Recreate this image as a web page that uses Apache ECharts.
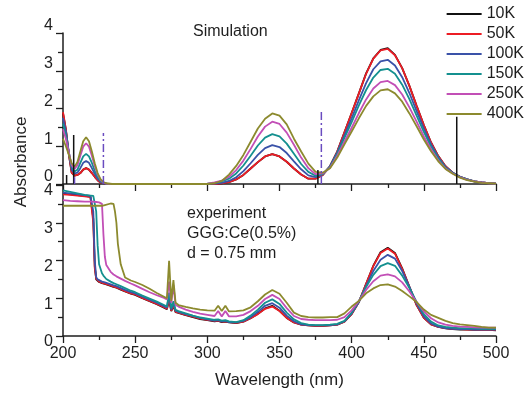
<!DOCTYPE html>
<html>
<head>
<meta charset="utf-8">
<script src="https://cdn.jsdelivr.net/npm/echarts@6/dist/echarts.min.js"></script>
<style>
  html, body { margin: 0; background: #fff; }
  #chart { width: 528px; height: 394px; }
</style>
</head>
<body>
<div id="chart"></div>
<script>
// legend names / colours
const temps = ['10K', '50K', '100K', '150K', '250K', '400K']
const colors = ['#111111', '#ec1c24', '#3a52a8', '#14908f', '#c24fb6', '#8c8a2e']

// ---- top panel: simulation ----
const simX = [200, 202, 204, 206, 208, 210, 212, 214, 216, 218, 220, 222, 224, 226, 228, 230, 234,
  300, 305, 310, 315, 320, 325, 330, 335, 340, 345, 350, 355, 360, 365, 370, 375, 380, 385, 390, 395,
  400, 405, 410, 415, 420, 425, 430, 435, 440, 445, 450, 455, 460, 465, 470, 475, 480, 485, 490, 495, 500]

const sim10K = [1.88, 1.44, 0.8, 0.3, 0.22, 0.24, 0.29, 0.38, 0.42, 0.38, 0.29, 0.19, 0.1, 0.04, 0.02, 0.01, 0,
  0, 0, 0.02, 0.05, 0.12, 0.24, 0.41, 0.58, 0.73, 0.79, 0.73, 0.59, 0.41, 0.25, 0.14, 0.14, 0.24, 0.47, 0.86, 1.37,
  1.88, 2.4, 2.93, 3.33, 3.55, 3.6, 3.42, 3.07, 2.6, 2.07, 1.56, 1.1, 0.74, 0.47, 0.3, 0.19, 0.12, 0.07, 0.04, 0.02, 0.01]
const sim50K = [1.9, 1.45, 0.8, 0.3, 0.22, 0.24, 0.29, 0.38, 0.42, 0.38, 0.29, 0.19, 0.1, 0.04, 0.02, 0.01, 0,
  0, 0, 0.02, 0.05, 0.12, 0.24, 0.41, 0.58, 0.73, 0.79, 0.73, 0.59, 0.41, 0.25, 0.14, 0.14, 0.24, 0.47, 0.86, 1.37,
  1.88, 2.4, 2.92, 3.32, 3.54, 3.58, 3.41, 3.07, 2.6, 2.07, 1.56, 1.1, 0.74, 0.47, 0.3, 0.19, 0.12, 0.07, 0.04, 0.02, 0.01]
const sim100K = [1.75, 1.4, 0.85, 0.38, 0.28, 0.3, 0.42, 0.56, 0.61, 0.56, 0.42, 0.27, 0.14, 0.06, 0.02, 0.01, 0,
  0, 0.01, 0.03, 0.08, 0.18, 0.34, 0.55, 0.77, 0.95, 1.03, 0.98, 0.82, 0.6, 0.39, 0.23, 0.18, 0.26, 0.47, 0.84, 1.29,
  1.74, 2.22, 2.67, 3.04, 3.25, 3.29, 3.14, 2.83, 2.41, 1.93, 1.47, 1.05, 0.71, 0.45, 0.3, 0.19, 0.12, 0.07, 0.04, 0.02, 0.01]
const sim150K = [1.6, 1.3, 0.85, 0.45, 0.33, 0.38, 0.56, 0.73, 0.8, 0.73, 0.56, 0.35, 0.19, 0.08, 0.03, 0.01, 0,
  0.01, 0.03, 0.07, 0.14, 0.28, 0.49, 0.75, 1.02, 1.23, 1.32, 1.26, 1.07, 0.8, 0.53, 0.32, 0.22, 0.26, 0.45, 0.8, 1.22,
  1.64, 2.08, 2.49, 2.82, 3.02, 3.05, 2.92, 2.63, 2.25, 1.81, 1.38, 0.99, 0.68, 0.43, 0.29, 0.19, 0.12, 0.07, 0.04, 0.02, 0.01]
const sim250K = [1.45, 1.2, 0.85, 0.5, 0.4, 0.5, 0.75, 0.99, 1.08, 0.99, 0.75, 0.48, 0.25, 0.11, 0.04, 0.01, 0,
  0.01, 0.04, 0.09, 0.19, 0.37, 0.62, 0.93, 1.26, 1.52, 1.65, 1.59, 1.36, 1.04, 0.7, 0.42, 0.26, 0.28, 0.43, 0.75, 1.12,
  1.49, 1.88, 2.24, 2.53, 2.7, 2.73, 2.62, 2.37, 2.03, 1.65, 1.26, 0.92, 0.63, 0.41, 0.28, 0.18, 0.11, 0.07, 0.04, 0.02, 0.01]
const sim400K = [1.2, 1.0, 0.78, 0.55, 0.46, 0.58, 0.86, 1.13, 1.24, 1.13, 0.86, 0.55, 0.29, 0.13, 0.05, 0.02, 0,
  0, 0.02, 0.08, 0.25, 0.48, 0.77, 1.12, 1.47, 1.73, 1.87, 1.81, 1.58, 1.2, 0.86, 0.54, 0.32, 0.3, 0.42, 0.7, 1.05,
  1.39, 1.74, 2.07, 2.32, 2.48, 2.51, 2.4, 2.18, 1.87, 1.53, 1.18, 0.87, 0.6, 0.4, 0.27, 0.17, 0.1, 0.06, 0.03, 0.02, 0.01]

// vertical markers in the simulation panel
const solidX = [202.5, 207.4, 376.6, 472.8]
const solidTop = [0.24, 1.3, 0.37, 1.78]
const dashX = [208, 228, 379]
const dashTop = [0.18, 1.35, 1.95]

// ---- bottom panel: experiment ----
const expX = [200, 205, 210, 215, 219, 221, 222, 223, 224, 225, 227, 228, 229, 230, 233, 235, 236, 237, 238,
  240, 243, 247, 250, 255, 260, 265, 270, 272, 273.5, 275, 276.5, 278, 280, 285, 290, 295, 300, 305,
  307.5, 310, 312.5, 315, 320, 325, 330, 335, 340, 345, 350, 355, 360, 365, 370, 375, 380, 385, 390, 395,
  400, 405, 410, 415, 420, 425, 430, 435, 440, 445, 450, 455, 460, 465, 470, 475, 480, 485, 490, 495, 500]

const exp10K = [3.77, 3.75, 3.73, 3.71, 3.69, 3.1, 1.85, 1.5, 1.46, 1.43, 1.4, 1.39, 1.38, 1.37, 1.33, 1.3, 1.29, 1.28, 1.26,
  1.23, 1.18, 1.12, 1.09, 1.0, 0.92, 0.84, 0.75, 0.71, 0.96, 0.66, 0.8, 0.63, 0.61, 0.55, 0.5, 0.45, 0.42, 0.39,
  0.4, 0.37, 0.38, 0.36, 0.34, 0.38, 0.47, 0.59, 0.73, 0.8, 0.67, 0.48, 0.36, 0.3, 0.28, 0.27, 0.27, 0.28, 0.3, 0.38,
  0.58, 0.9, 1.38, 1.86, 2.22, 2.34, 2.2, 1.79, 1.3, 0.82, 0.48, 0.31, 0.24, 0.2, 0.18, 0.17, 0.17, 0.16, 0.16, 0.16, 0.15]
const exp50K = [3.75, 3.74, 3.72, 3.7, 3.68, 3.0, 1.8, 1.52, 1.47, 1.44, 1.41, 1.4, 1.39, 1.38, 1.34, 1.31, 1.3, 1.29, 1.27,
  1.24, 1.19, 1.13, 1.1, 1.01, 0.93, 0.85, 0.76, 0.72, 0.98, 0.67, 0.82, 0.64, 0.62, 0.56, 0.51, 0.46, 0.43, 0.4,
  0.41, 0.38, 0.39, 0.37, 0.35, 0.38, 0.47, 0.58, 0.72, 0.78, 0.66, 0.48, 0.36, 0.3, 0.28, 0.27, 0.27, 0.28, 0.3, 0.38,
  0.58, 0.9, 1.38, 1.85, 2.2, 2.32, 2.18, 1.78, 1.3, 0.82, 0.48, 0.31, 0.24, 0.21, 0.19, 0.18, 0.17, 0.17, 0.16, 0.16, 0.16]
const exp100K = [3.8, 3.78, 3.76, 3.73, 3.71, 3.3, 2.0, 1.56, 1.5, 1.47, 1.44, 1.43, 1.42, 1.41, 1.37, 1.34, 1.33, 1.32, 1.3,
  1.27, 1.22, 1.16, 1.13, 1.04, 0.96, 0.88, 0.79, 0.75, 1.1, 0.7, 0.86, 0.67, 0.64, 0.58, 0.53, 0.48, 0.44, 0.41,
  0.42, 0.39, 0.4, 0.37, 0.36, 0.4, 0.5, 0.64, 0.8, 0.87, 0.75, 0.54, 0.39, 0.31, 0.29, 0.28, 0.28, 0.29, 0.31, 0.39,
  0.6, 0.9, 1.33, 1.72, 2.02, 2.15, 2.05, 1.72, 1.3, 0.86, 0.52, 0.33, 0.25, 0.21, 0.19, 0.18, 0.18, 0.17, 0.17, 0.17, 0.17]
const exp150K = [3.86, 3.82, 3.78, 3.74, 3.72, 3.71, 3.7, 3.3, 2.4, 1.9, 1.66, 1.6, 1.55, 1.51, 1.44, 1.4, 1.38, 1.37, 1.35,
  1.32, 1.27, 1.2, 1.16, 1.07, 0.99, 0.91, 0.82, 0.78, 1.15, 0.73, 0.92, 0.69, 0.66, 0.6, 0.54, 0.49, 0.46, 0.43,
  0.44, 0.41, 0.42, 0.39, 0.37, 0.42, 0.54, 0.7, 0.88, 0.97, 0.85, 0.62, 0.44, 0.34, 0.3, 0.29, 0.29, 0.3, 0.32, 0.4,
  0.62, 0.92, 1.3, 1.62, 1.85, 1.93, 1.86, 1.6, 1.27, 0.9, 0.58, 0.38, 0.28, 0.24, 0.22, 0.21, 0.2, 0.2, 0.19, 0.19, 0.19]
const exp250K = [3.6, 3.58, 3.57, 3.56, 3.56, 3.56, 3.55, 3.55, 3.55, 3.54, 3.5, 2.7, 2.1, 1.88, 1.7, 1.63, 1.6, 1.58, 1.56,
  1.52, 1.46, 1.39, 1.34, 1.25, 1.16, 1.08, 1.01, 0.97, 1.44, 0.88, 1.35, 0.82, 0.78, 0.7, 0.64, 0.59, 0.56, 0.53,
  0.66, 0.52, 0.66, 0.52, 0.52, 0.56, 0.66, 0.8, 0.98, 1.09, 0.98, 0.74, 0.53, 0.45, 0.43, 0.42, 0.42, 0.42, 0.43, 0.5,
  0.68, 0.93, 1.22, 1.45, 1.6, 1.63, 1.58, 1.42, 1.18, 0.9, 0.65, 0.47, 0.36, 0.3, 0.27, 0.25, 0.24, 0.23, 0.22, 0.22, 0.22]
const exp400K = [3.45, 3.45, 3.45, 3.45, 3.45, 3.45, 3.45, 3.45, 3.45, 3.45, 3.45, 3.46, 3.47, 3.5, 3.51, 3.5, 3.3, 3.0, 2.45,
  1.9, 1.55, 1.47, 1.43, 1.35, 1.25, 1.14, 1.04, 1.0, 1.99, 0.93, 1.48, 0.88, 0.82, 0.77, 0.73, 0.7, 0.68, 0.67,
  0.8, 0.66, 0.8, 0.65, 0.66, 0.68, 0.76, 0.92, 1.1, 1.22, 1.12, 0.88, 0.62, 0.53, 0.5, 0.49, 0.49, 0.5, 0.5, 0.6,
  0.78, 0.93, 1.13, 1.26, 1.35, 1.37, 1.31, 1.19, 1.05, 0.9, 0.7, 0.56, 0.48, 0.4, 0.34, 0.31, 0.29, 0.27, 0.24, 0.22, 0.22]

const simSets = [sim10K, sim50K, sim100K, sim150K, sim250K, sim400K]
const expSets = [exp10K, exp50K, exp100K, exp150K, exp250K, exp400K]

const FONT = 'Liberation Sans, Arial, Helvetica, sans-serif'
const INK = '#1e1e1e'

function curve(name, color, xs, ys, idx) {
  return {
    name, type: 'line', xAxisIndex: idx, yAxisIndex: idx,
    data: xs.map((x, i) => [x, ys[i]]),
    symbol: 'none', silent: true,
    lineStyle: { color, width: 1.8 }, itemStyle: { color },
  }
}

function marker(x, top, color, type) {
  return {
    type: 'line', xAxisIndex: 0, yAxisIndex: 0, symbol: 'none', silent: true, z: 3,
    data: [[x, 0], [x, top]],
    lineStyle: { color, width: 1.5, type },
  }
}

function xAxisCfg(idx, showLabel) {
  return {
    type: 'value', gridIndex: idx, min: 200, max: 500, interval: 50,
    axisLine: { lineStyle: { color: INK, width: 1.5 } },
    axisTick: { length: 7, lineStyle: { color: INK, width: 1.3 } },
    minorTick: { show: true, splitNumber: 2, length: 4, lineStyle: { color: INK, width: 1.3 } },
    splitLine: { show: false },
    axisLabel: { show: showLabel, fontSize: 16, color: INK, fontFamily: FONT, margin: 10 },
    name: showLabel ? 'Wavelength (nm)' : '',
    nameLocation: 'middle', nameGap: 36,
    nameTextStyle: { fontSize: 17, color: INK, fontFamily: FONT },
  }
}

// top panel labels sit above their ticks, bottom panel labels below
function yAxisCfg(idx, vAlign, lh) {
  return {
    type: 'value', gridIndex: idx, min: 0, max: 4, interval: 1,
    axisLine: { show: true, lineStyle: { color: INK, width: 1.5 } },
    axisTick: { length: 7, lineStyle: { color: INK, width: 1.3 } },
    minorTick: { show: true, splitNumber: 2, length: 5, lineStyle: { color: INK, width: 1.3 } },
    splitLine: { show: false },
    axisLabel: { fontSize: 16, color: INK, fontFamily: FONT, margin: 10, verticalAlign: vAlign, lineHeight: lh },
  }
}

const series = []
temps.forEach((t, i) => {
  series.push(curve(t, colors[i], simX, simSets[i], 0))
  series.push(curve(t, colors[i], expX, expSets[i], 1))
})
solidX.forEach((x, i) => series.push(marker(x, solidTop[i], '#111111', 'solid')))
dashX.forEach((x, i) => series.push(marker(x, dashTop[i], '#6a4cc0', [8, 3, 2, 3])))

const chart = echarts.init(document.getElementById('chart'))
chart.setOption({
  animation: false,
  backgroundColor: '#fff',
  grid: [
    { left: 63, top: 33, width: 433, height: 151, outerBoundsMode: 'none' },
    { left: 63, top: 185, width: 433, height: 151, outerBoundsMode: 'none' },
  ],
  xAxis: [xAxisCfg(0, false), xAxisCfg(1, true)],
  yAxis: [yAxisCfg(0, 'bottom', 14), yAxisCfg(1, 'top', 12)],
  legend: {
    data: temps, orient: 'vertical', right: 4, top: 6, padding: 0,
    itemWidth: 35, itemHeight: 14, itemGap: 4, itemStyle: { opacity: 0 },
    textStyle: { fontSize: 16, color: INK, fontFamily: FONT },
  },
  graphic: [
    { type: 'text', left: 193, top: 24, style: { text: 'Simulation', font: '16px ' + FONT, fill: INK } },
    { type: 'text', left: 187, top: 206, style: { text: 'experiment', font: '16px ' + FONT, fill: INK } },
    { type: 'text', left: 187, top: 226, style: { text: 'GGG:Ce(0.5%)', font: '16px ' + FONT, fill: INK } },
    { type: 'text', left: 187, top: 246, style: { text: 'd = 0.75 mm', font: '16px ' + FONT, fill: INK } },
    {
      type: 'text', x: 21, y: 162, rotation: Math.PI / 2,
      style: { text: 'Absorbance', font: '17px ' + FONT, fill: INK, textAlign: 'center', textVerticalAlign: 'middle' },
    },
  ],
  series,
})
</script>
</body>
</html>
